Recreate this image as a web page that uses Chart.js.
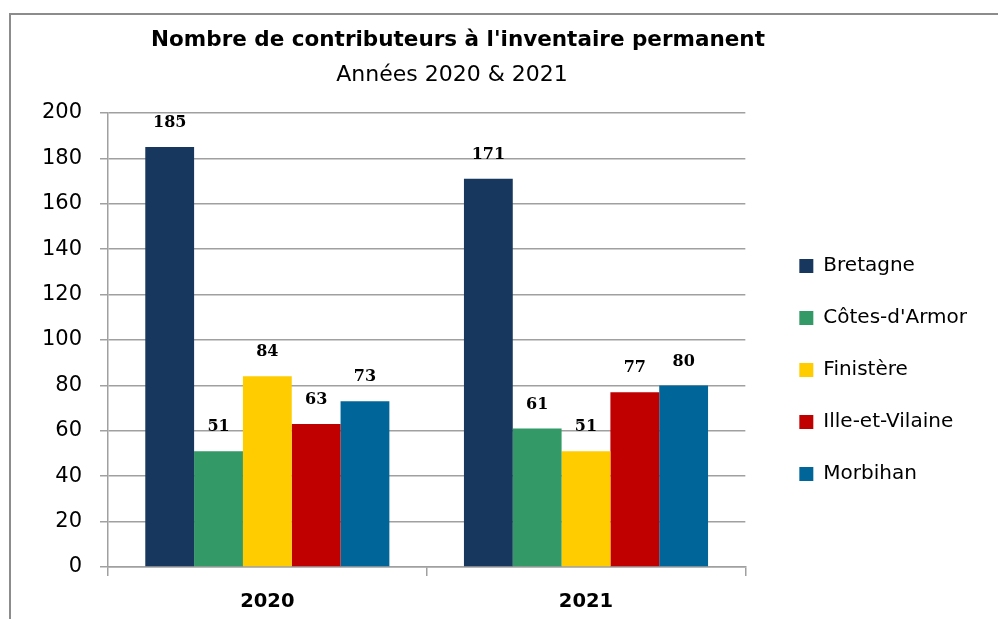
<!DOCTYPE html>
<html>
<head>
<meta charset="utf-8">
<script src="https://cdn.jsdelivr.net/npm/chart.js@4.4.1/dist/chart.umd.min.js"></script>
<style>
  html, body { margin: 0; padding: 0; background: #fff; }
  #wrap { position: relative; width: 998px; height: 619px; overflow: hidden; }
  #frame {
    position: absolute; left: 9px; top: 13px; width: 1100px; height: 700px;
    border: 2px solid #8c8c8c; pointer-events: none;
  }
</style>
</head>
<body>
<div id="wrap">
  <canvas id="chart"></canvas>
  <div id="frame"></div>
</div>
<script>
const chartTitle = "Nombre de contributeurs à l'inventaire permanent";
const chartSubtitle = 'Années 2020 & 2021';

const years = ['2020', '2021'];
const regions = ['Bretagne', "Côtes-d'Armor", 'Finistère', 'Ille-et-Vilaine', 'Morbihan'];
const bretagne = [185, 171];
const cotesArmor = [51, 61];
const finistere = [84, 51];
const illeVilaine = [63, 77];
const morbihan = [73, 80];
const regionColors = ['#17375E', '#339966', '#FFCC00', '#C00000', '#006699'];

const gridColor = '#a0a0a0';
const fontFamily = '"DejaVu Sans", sans-serif';

// title + subtitle drawn over the free top area
const headerText = {
  id: 'headerText',
  afterDraw(chart) {
    const ctx = chart.ctx;
    ctx.save();
    ctx.fillStyle = '#000';
    ctx.textAlign = 'center';
    ctx.textBaseline = 'middle';
    ctx.font = 'bold 21.5px ' + fontFamily;
    ctx.fillText(chartTitle, 458, 40);
    ctx.font = '22px ' + fontFamily;
    ctx.fillText(chartSubtitle, 452, 75);
    ctx.restore();
  }
};

// value labels above each bar
const barValues = {
  id: 'barValues',
  afterDatasetsDraw(chart) {
    const ctx = chart.ctx;
    ctx.save();
    ctx.fillStyle = '#000';
    ctx.textAlign = 'center';
    ctx.textBaseline = 'middle';
    ctx.font = 'bold 16px "DejaVu Serif", serif';
    chart.data.datasets.forEach((ds, i) => {
      chart.getDatasetMeta(i).data.forEach((bar, j) => {
        ctx.fillText(String(ds.data[j]), bar.x, bar.y - 24);
      });
    });
    ctx.restore();
  }
};

const seriesValues = [bretagne, cotesArmor, finistere, illeVilaine, morbihan];

new Chart(document.getElementById('chart'), {
  type: 'bar',
  data: {
    labels: years,
    datasets: regions.map((name, i) => ({
      label: name,
      data: seriesValues[i],
      backgroundColor: regionColors[i],
      borderWidth: 0,
      categoryPercentage: 0.766,
      barPercentage: 1.0
    }))
  },
  options: {
    responsive: true,
    maintainAspectRatio: false,
    animation: false,
    events: [],
    layout: {
      padding: { top: 113, left: 0, right: 21, bottom: -8 }
    },
    plugins: {
      title: { display: false },
      tooltip: { enabled: false },
      legend: {
        position: 'right',
        maxWidth: 400,
        labels: {
          boxWidth: 14,
          boxHeight: 14,
          padding: 32,
          color: '#000',
          font: { family: fontFamily, size: 20 }
        }
      }
    },
    scales: {
      x: {
        grid: {
          display: true,
          drawOnChartArea: false,
          drawTicks: true,
          tickLength: 9,
          color: gridColor,
          lineWidth: 1.5,
          offset: true
        },
        border: { display: true, color: gridColor, width: 1.5 },
        ticks: {
          color: '#000',
          padding: 14,
          font: { family: fontFamily, size: 19.5, weight: 'bold' }
        },
        afterFit(scale) { scale.height = 60; }
      },
      y: {
        min: 0,
        max: 200,
        ticks: {
          stepSize: 20,
          color: '#000',
          padding: 18,
          font: { family: fontFamily, size: 21 }
        },
        grid: {
          color: gridColor,
          lineWidth: 1.5,
          tickLength: 8
        },
        border: { display: true, color: gridColor, width: 1.5 },
        afterFit(scale) { scale.width = 108; }
      },
      // empty axis: keeps the gap between plot area and legend
      gap: {
        type: 'linear',
        position: 'right',
        grid: { display: false },
        ticks: { display: false },
        border: { display: false },
        afterFit(scale) { scale.width = 22; }
      }
    }
  },
  plugins: [headerText, barValues]
});
</script>
</body>
</html>
